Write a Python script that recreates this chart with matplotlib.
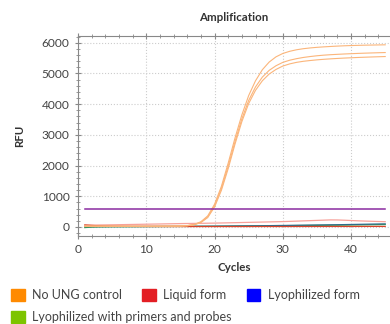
import numpy as np
import matplotlib.pyplot as plt
from matplotlib.patches import Patch
from matplotlib.ticker import MultipleLocator

plt.rcParams['font.family'] = ['Lato', 'DejaVu Sans']

cycles = list(range(1, 46))

# No UNG control, three replicates
no_ung_a = [30, 28, 27, 26, 25, 25, 24, 24, 24, 25, 25, 26, 27, 29, 33,
            45, 80, 170, 360, 740, 1320, 2080, 2900, 3650, 4280, 4760, 5120, 5370, 5540, 5650,
            5720, 5770, 5805, 5830, 5850, 5865, 5878, 5890, 5900, 5908, 5914, 5920, 5924, 5928, 5932]
no_ung_b = [28, 27, 26, 25, 24, 24, 23, 23, 23, 24, 24, 25, 26, 28, 31,
            42, 74, 155, 330, 690, 1250, 1980, 2780, 3520, 4120, 4560, 4880, 5100, 5250, 5360,
            5430, 5480, 5520, 5550, 5575, 5595, 5610, 5622, 5633, 5643, 5652, 5660, 5667, 5674, 5680]
no_ung_c = [26, 25, 24, 24, 23, 23, 22, 22, 22, 23, 23, 24, 25, 27, 30,
            40, 70, 145, 305, 650, 1190, 1900, 2700, 3430, 4020, 4450, 4760, 4980, 5130, 5240,
            5310, 5360, 5395, 5420, 5442, 5460, 5475, 5488, 5500, 5510, 5520, 5528, 5536, 5543, 5550]

# Liquid form
liquid_a = [60, 62, 64, 67, 70, 74, 78, 82, 86, 90, 94, 98, 102, 106, 110,
            113, 116, 119, 122, 126, 130, 135, 140, 145, 150, 155, 160, 165, 170, 175,
            182, 190, 198, 206, 214, 222, 230, 228, 220, 210, 200, 192, 185, 178, 172]
liquid_b = [65, 50, 38, 30, 25, 22, 20, 18, 17, 16, 15, 15, 14, 14, 14,
            14, 14, 14, 14, 14, 14, 14, 14, 14, 14, 15, 15, 15, 15, 15,
            15, 16, 16, 16, 16, 16, 17, 17, 17, 17, 18, 18, 18, 18, 18]

# Lyophilized form
lyo = [10, 10, 11, 11, 12, 12, 13, 13, 14, 15, 16, 17, 18, 19, 20,
       21, 22, 23, 24, 26, 28, 30, 32, 34, 36, 38, 40, 43, 46, 49,
       52, 55, 58, 61, 64, 67, 70, 73, 77, 81, 85, 89, 93, 97, 100]

# Lyophilized with primers and probes
lyo_pp = [-20, -5, 2, 5, 7, 8, 9, 10, 11, 12, 13, 14, 15, 16, 17,
          18, 19, 20, 21, 22, 24, 26, 28, 30, 32, 34, 36, 38, 40, 42,
          44, 46, 48, 50, 52, 54, 56, 58, 61, 64, 67, 70, 73, 76, 80]

threshold = 600

legend_labels = ['No UNG control', 'Liquid form', 'Lyophilized form',
                 'Lyophilized with primers and probes']
legend_colors = ['#FF8A00', '#E31E24', '#0000FF', '#7DC400']

fig = plt.figure(figsize=(3.9, 3.24), dpi=100)
ax = fig.add_axes([0.2, 0.272, 0.8, 0.617])

ax.plot(cycles, liquid_a, color='#F7A19A', lw=0.9)
ax.plot(cycles, lyo_pp, color='#3FA34D', lw=0.9)
ax.plot(cycles, lyo, color='#2B6C8C', lw=0.9)
ax.plot(cycles, liquid_b, color='#D9442A', lw=0.9)
for s in (no_ung_a, no_ung_b, no_ung_c):
    ax.plot(cycles, s, color='#FBB57A', lw=0.8)
ax.axhline(threshold, xmin=1 / 45.7, xmax=45 / 45.7, color='#8A2BA0', lw=1.1)

ax.set_xlim(0, 45.7)
ax.set_ylim(-290, 6220)
ax.xaxis.set_major_locator(MultipleLocator(10))
ax.xaxis.set_minor_locator(MultipleLocator(2))
ax.yaxis.set_major_locator(MultipleLocator(1000))
ax.yaxis.set_minor_locator(MultipleLocator(200))
ax.grid(True, which='major', color='#CCCCCC', ls=':', lw=0.8)
ax.tick_params(which='both', direction='inout', color='#888888', labelsize=8.6,
               labelcolor='#444444', top=True)
ax.tick_params(which='major', length=5)
ax.tick_params(which='minor', length=3)
for side in ('left', 'bottom', 'top'):
    ax.spines[side].set_color('#888888')
ax.spines['right'].set_visible(False)

ax.set_title('Amplification', fontsize=8.3, fontweight='bold', color='#333333', pad=11)
ax.set_xlabel('Cycles', fontsize=8.3, fontweight='bold', color='#333333', labelpad=5)
ax.set_ylabel('RFU', fontsize=8.3, fontweight='bold', color='#333333', labelpad=12)

handles = [Patch(color=c, label=l) for c, l in zip(legend_colors, legend_labels)]
kw = dict(frameon=False, fontsize=9, handlelength=1.1, handleheight=1.1,
          handletextpad=0.6, labelcolor='#444444', borderaxespad=0, loc='upper left')
fig.legend(handles=handles[:3], ncol=3, columnspacing=1.6,
           bbox_to_anchor=(0.015, 0.125), **kw)
fig.legend(handles=handles[3:], bbox_to_anchor=(0.015, 0.055), **kw)

fig.savefig('out.png', dpi=100)
